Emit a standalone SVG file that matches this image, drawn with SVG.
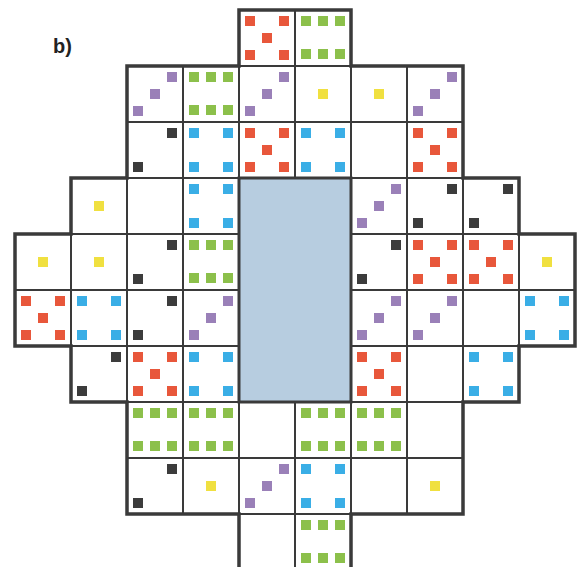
<svg xmlns="http://www.w3.org/2000/svg" xmlns:xlink="http://www.w3.org/1999/xlink" width="579" height="567" viewBox="0 0 579 567">
<style>
.cell{fill:#ffffff;stroke:#3a3a3a;stroke-width:2}
.outline{fill:none;stroke:#3a3a3a;stroke-width:3.5;stroke-linejoin:miter}
.center{fill:#b7cde0;stroke:#3a3a3a;stroke-width:3}
.r{fill:#e8573b}.g{fill:#8cc04b}.p{fill:#9a80b8}.b{fill:#3aaee6}.y{fill:#f0e040}.k{fill:#3c3c3c}
.lbl{font-family:"Liberation Sans",Arial,sans-serif;font-weight:bold;font-size:20px;fill:#222}
</style>
<defs>
<g id="f1"><rect class="y" x="23" y="23" width="10" height="10"/></g>
<g id="f2"><rect class="k" x="40" y="6" width="10" height="10"/><rect class="k" x="6" y="40" width="10" height="10"/></g>
<g id="f3"><rect class="p" x="40" y="6" width="10" height="10"/><rect class="p" x="23" y="23" width="10" height="10"/><rect class="p" x="6" y="40" width="10" height="10"/></g>
<g id="f4"><rect class="b" x="6" y="6" width="10" height="10"/><rect class="b" x="40" y="6" width="10" height="10"/><rect class="b" x="6" y="40" width="10" height="10"/><rect class="b" x="40" y="40" width="10" height="10"/></g>
<g id="f5"><rect class="r" x="6" y="6" width="10" height="10"/><rect class="r" x="40" y="6" width="10" height="10"/><rect class="r" x="23" y="23" width="10" height="10"/><rect class="r" x="6" y="40" width="10" height="10"/><rect class="r" x="40" y="40" width="10" height="10"/></g>
<g id="f6"><rect class="g" x="6" y="6" width="10" height="10"/><rect class="g" x="23" y="6" width="10" height="10"/><rect class="g" x="40" y="6" width="10" height="10"/><rect class="g" x="6" y="39" width="10" height="10"/><rect class="g" x="23" y="39" width="10" height="10"/><rect class="g" x="40" y="39" width="10" height="10"/></g>
</defs>
<text class="lbl" x="53" y="53">b)</text>
<g id="cells">
<g id="r0c4"><rect class="cell" x="239" y="10" width="56" height="56"/><use href="#f5" x="239" y="10"/></g>
<g id="r0c5"><rect class="cell" x="295" y="10" width="56" height="56"/><use href="#f6" x="295" y="10"/></g>

<g id="r1c2"><rect class="cell" x="127" y="66" width="56" height="56"/><use href="#f3" x="127" y="66"/></g>
<g id="r1c3"><rect class="cell" x="183" y="66" width="56" height="56"/><use href="#f6" x="183" y="66"/></g>
<g id="r1c4"><rect class="cell" x="239" y="66" width="56" height="56"/><use href="#f3" x="239" y="66"/></g>
<g id="r1c5"><rect class="cell" x="295" y="66" width="56" height="56"/><use href="#f1" x="295" y="66"/></g>
<g id="r1c6"><rect class="cell" x="351" y="66" width="56" height="56"/><use href="#f1" x="351" y="66"/></g>
<g id="r1c7"><rect class="cell" x="407" y="66" width="56" height="56"/><use href="#f3" x="407" y="66"/></g>

<g id="r2c2"><rect class="cell" x="127" y="122" width="56" height="56"/><use href="#f2" x="127" y="122"/></g>
<g id="r2c3"><rect class="cell" x="183" y="122" width="56" height="56"/><use href="#f4" x="183" y="122"/></g>
<g id="r2c4"><rect class="cell" x="239" y="122" width="56" height="56"/><use href="#f5" x="239" y="122"/></g>
<g id="r2c5"><rect class="cell" x="295" y="122" width="56" height="56"/><use href="#f4" x="295" y="122"/></g>
<g id="r2c6"><rect class="cell" x="351" y="122" width="56" height="56"/></g>
<g id="r2c7"><rect class="cell" x="407" y="122" width="56" height="56"/><use href="#f5" x="407" y="122"/></g>

<g id="r3c1"><rect class="cell" x="71" y="178" width="56" height="56"/><use href="#f1" x="71" y="178"/></g>
<g id="r3c2"><rect class="cell" x="127" y="178" width="56" height="56"/></g>
<g id="r3c3"><rect class="cell" x="183" y="178" width="56" height="56"/><use href="#f4" x="183" y="178"/></g>
<g id="r3c6"><rect class="cell" x="351" y="178" width="56" height="56"/><use href="#f3" x="351" y="178"/></g>
<g id="r3c7"><rect class="cell" x="407" y="178" width="56" height="56"/><use href="#f2" x="407" y="178"/></g>
<g id="r3c8"><rect class="cell" x="463" y="178" width="56" height="56"/><use href="#f2" x="463" y="178"/></g>

<g id="r4c0"><rect class="cell" x="15" y="234" width="56" height="56"/><use href="#f1" x="15" y="234"/></g>
<g id="r4c1"><rect class="cell" x="71" y="234" width="56" height="56"/><use href="#f1" x="71" y="234"/></g>
<g id="r4c2"><rect class="cell" x="127" y="234" width="56" height="56"/><use href="#f2" x="127" y="234"/></g>
<g id="r4c3"><rect class="cell" x="183" y="234" width="56" height="56"/><use href="#f6" x="183" y="234"/></g>
<g id="r4c6"><rect class="cell" x="351" y="234" width="56" height="56"/><use href="#f2" x="351" y="234"/></g>
<g id="r4c7"><rect class="cell" x="407" y="234" width="56" height="56"/><use href="#f5" x="407" y="234"/></g>
<g id="r4c8"><rect class="cell" x="463" y="234" width="56" height="56"/><use href="#f5" x="463" y="234"/></g>
<g id="r4c9"><rect class="cell" x="519" y="234" width="56" height="56"/><use href="#f1" x="519" y="234"/></g>

<g id="r5c0"><rect class="cell" x="15" y="290" width="56" height="56"/><use href="#f5" x="15" y="290"/></g>
<g id="r5c1"><rect class="cell" x="71" y="290" width="56" height="56"/><use href="#f4" x="71" y="290"/></g>
<g id="r5c2"><rect class="cell" x="127" y="290" width="56" height="56"/><use href="#f2" x="127" y="290"/></g>
<g id="r5c3"><rect class="cell" x="183" y="290" width="56" height="56"/><use href="#f3" x="183" y="290"/></g>
<g id="r5c6"><rect class="cell" x="351" y="290" width="56" height="56"/><use href="#f3" x="351" y="290"/></g>
<g id="r5c7"><rect class="cell" x="407" y="290" width="56" height="56"/><use href="#f3" x="407" y="290"/></g>
<g id="r5c8"><rect class="cell" x="463" y="290" width="56" height="56"/></g>
<g id="r5c9"><rect class="cell" x="519" y="290" width="56" height="56"/><use href="#f4" x="519" y="290"/></g>

<g id="r6c1"><rect class="cell" x="71" y="346" width="56" height="56"/><use href="#f2" x="71" y="346"/></g>
<g id="r6c2"><rect class="cell" x="127" y="346" width="56" height="56"/><use href="#f5" x="127" y="346"/></g>
<g id="r6c3"><rect class="cell" x="183" y="346" width="56" height="56"/><use href="#f4" x="183" y="346"/></g>
<g id="r6c6"><rect class="cell" x="351" y="346" width="56" height="56"/><use href="#f5" x="351" y="346"/></g>
<g id="r6c7"><rect class="cell" x="407" y="346" width="56" height="56"/></g>
<g id="r6c8"><rect class="cell" x="463" y="346" width="56" height="56"/><use href="#f4" x="463" y="346"/></g>

<g id="r7c2"><rect class="cell" x="127" y="402" width="56" height="56"/><use href="#f6" x="127" y="402"/></g>
<g id="r7c3"><rect class="cell" x="183" y="402" width="56" height="56"/><use href="#f6" x="183" y="402"/></g>
<g id="r7c4"><rect class="cell" x="239" y="402" width="56" height="56"/></g>
<g id="r7c5"><rect class="cell" x="295" y="402" width="56" height="56"/><use href="#f6" x="295" y="402"/></g>
<g id="r7c6"><rect class="cell" x="351" y="402" width="56" height="56"/><use href="#f6" x="351" y="402"/></g>
<g id="r7c7"><rect class="cell" x="407" y="402" width="56" height="56"/></g>

<g id="r8c2"><rect class="cell" x="127" y="458" width="56" height="56"/><use href="#f2" x="127" y="458"/></g>
<g id="r8c3"><rect class="cell" x="183" y="458" width="56" height="56"/><use href="#f1" x="183" y="458"/></g>
<g id="r8c4"><rect class="cell" x="239" y="458" width="56" height="56"/><use href="#f3" x="239" y="458"/></g>
<g id="r8c5"><rect class="cell" x="295" y="458" width="56" height="56"/><use href="#f4" x="295" y="458"/></g>
<g id="r8c6"><rect class="cell" x="351" y="458" width="56" height="56"/></g>
<g id="r8c7"><rect class="cell" x="407" y="458" width="56" height="56"/><use href="#f1" x="407" y="458"/></g>

<g id="r9c4"><rect class="cell" x="239" y="514" width="56" height="56"/></g>
<g id="r9c5"><rect class="cell" x="295" y="514" width="56" height="56"/><use href="#f6" x="295" y="514"/></g>
</g>
<g id="center"><rect class="center" x="239" y="178" width="112" height="224"/></g>
<g id="border">
<path class="outline" d="M239,10 H351 V66 H463 V178 H519 V234 H575 V346 H519 V402 H463 V514 H351 V570 H239 V514 H127 V402 H71 V346 H15 V234 H71 V178 H127 V66 H239 Z"/>
</g>
</svg>
